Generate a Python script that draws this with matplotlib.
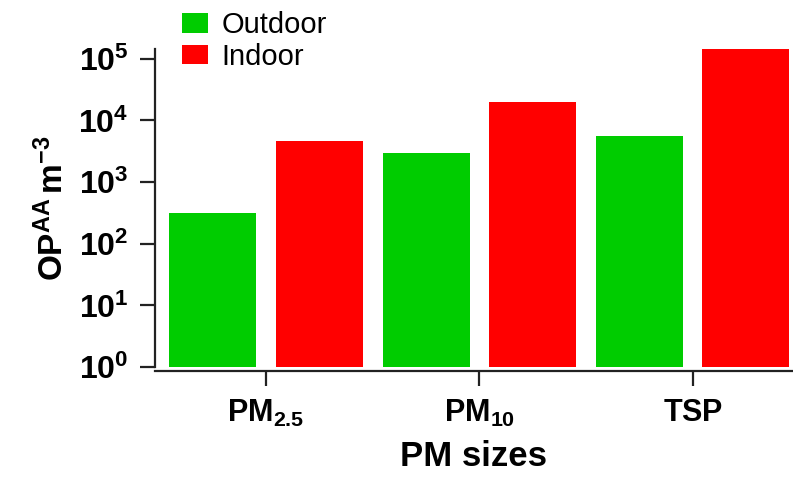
import numpy as np
import matplotlib
matplotlib.use('Agg')
import matplotlib.pyplot as plt
from matplotlib.ticker import FixedLocator, FuncFormatter

plt.rcParams['font.family'] = ['Liberation Sans', 'DejaVu Sans']
plt.rcParams['mathtext.fontset'] = 'custom'
plt.rcParams['mathtext.rm'] = 'Liberation Sans'
plt.rcParams['mathtext.bf'] = 'Liberation Sans:bold'
plt.rcParams['mathtext.it'] = 'Liberation Sans:italic'

# OP^AA per cubic metre, by particle size fraction
sizes = [r'$\mathbf{PM_{2.5}}$', r'$\mathbf{PM_{10}}$', r'$\mathbf{TSP}$']
outdoor = [316, 3000, 5600]
indoor = [4700, 20000, 150000]

green = '#00cc00'
red = '#ff0000'

fig = plt.figure(figsize=(7.93, 4.82), dpi=100)
ax = fig.add_axes([155/793, 115/482, 638/793, 318/482])

x = np.arange(len(sizes))
w = 0.408
off = 0.249
ax.bar(x - off, outdoor, w, bottom=1, color=green, label='Outdoor')
ax.bar(x + off, indoor, w, bottom=1, color=red, label='Indoor')

ax.set_yscale('log')
ax.set_ylim(1, 10**5.16)
ax.set_xlim(-0.52, 2.47)

ax.yaxis.set_major_locator(FixedLocator([10**k for k in range(6)]))
ax.yaxis.set_minor_locator(FixedLocator([]))
ax.yaxis.set_major_formatter(FuncFormatter(
    lambda v, p: r'$\mathbf{10^{%d}}$' % round(np.log10(v))))
ax.set_xticks(x)
ax.set_xticklabels(sizes)

for s in ['top', 'right']:
    ax.spines[s].set_visible(False)
for s in ['left', 'bottom']:
    ax.spines[s].set_linewidth(1.6)
    ax.spines[s].set_color('#222222')
ax.spines['bottom'].set_position(('outward', 3))

ax.tick_params(axis='y', length=11, width=1.6, color='#222222',
               labelsize=23, pad=8)
ax.tick_params(axis='x', length=11, width=1.6, color='#222222',
               labelsize=22, pad=8)

ax.set_ylabel(r'$\mathbf{OP^{AA}\,m^{-3}}$', fontsize=24, labelpad=6)
ax.set_xlabel('PM sizes', fontsize=25, fontweight='bold', labelpad=8)

ax.legend(loc='upper left', bbox_to_anchor=(0.024, 1.155), frameon=False,
          fontsize=21, handlelength=0.9, handleheight=0.66,
          handletextpad=0.45, labelspacing=0.12, borderaxespad=0)

fig.savefig('out.png', dpi=100)
